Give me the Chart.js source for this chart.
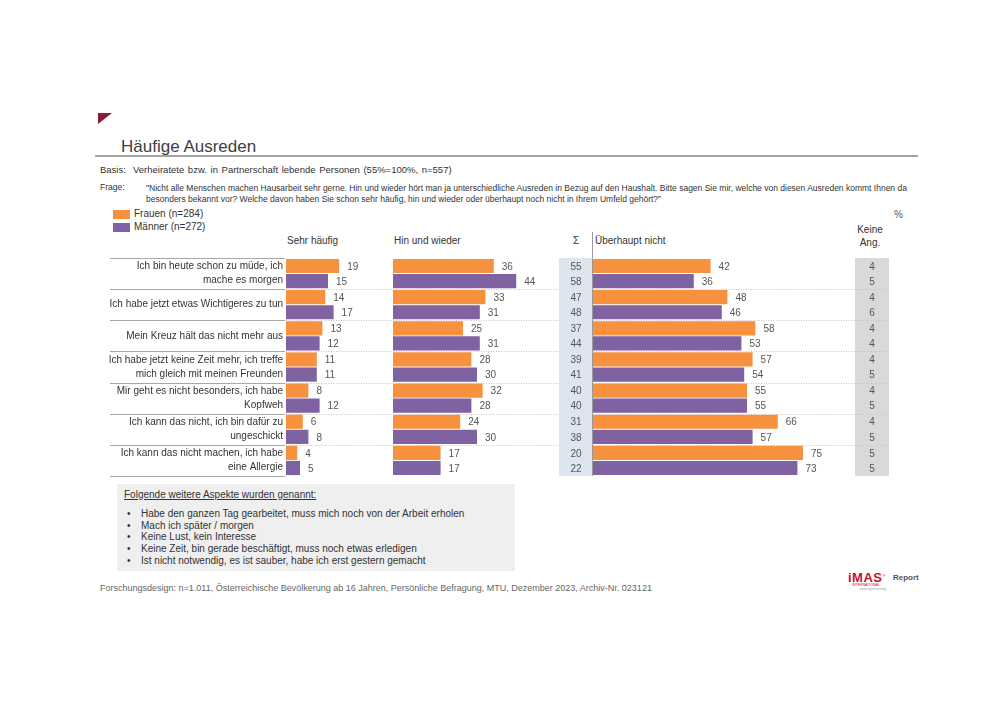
<!DOCTYPE html>
<html lang="de">
<head>
<meta charset="utf-8">
<title>Häufige Ausreden</title>
<script src="https://cdn.jsdelivr.net/npm/chart.js@4.4.1/dist/chart.umd.min.js"></script>
<style>
  html, body { margin: 0; padding: 0; background: #fff; }
  #page { position: relative; width: 1000px; height: 707px; overflow: hidden; background: #fff;
          font-family: "Liberation Sans", Arial, sans-serif; color: #333; }
  .t { position: absolute; white-space: nowrap; line-height: 1; }
  #chartWrap { position: absolute; left: 100px; top: 225px; width: 810px; height: 268px; }
</style>
</head>
<body>
<div id="page">
  <!-- red corner mark -->
  <svg style="position:absolute;left:98px;top:113px" width="14" height="12"><polygon points="0,0 14,0 0,11" fill="#8e1b35"/></svg>

  <div class="t" style="left:121px;top:138px;font-size:17px;color:#404040;">Häufige Ausreden</div>
  <div style="position:absolute;left:95px;top:155px;width:823px;height:2px;background:#a3a3a3;"></div>

  <div class="t" style="left:100px;top:165px;font-size:9.5px;">Basis:</div>
  <div class="t" style="left:133px;top:165px;font-size:9.5px;word-spacing:1px;">Verheiratete bzw. in Partnerschaft lebende Personen (55%=100%, n=557)</div>

  <div class="t" style="left:100px;top:182.5px;font-size:8.5px;">Frage:</div>
  <div class="t" style="left:146px;top:182.5px;font-size:8.5px;line-height:11.5px;">"Nicht alle Menschen machen Hausarbeit sehr gerne. Hin und wieder hört man ja unterschiedliche Ausreden in Bezug auf den Haushalt. Bitte sagen Sie mir, welche von diesen Ausreden kommt Ihnen da<br>besonders bekannt vor? Welche davon haben Sie schon sehr häufig, hin und wieder oder überhaupt noch nicht in Ihrem Umfeld gehört?"</div>

  <!-- legend -->
  <div id="legF" style="position:absolute;left:113px;top:210px;width:17px;height:9px;"></div>
  <div class="t" id="legFt" style="left:134px;top:209px;font-size:10px;"></div>
  <div id="legM" style="position:absolute;left:113px;top:223px;width:17px;height:9px;"></div>
  <div class="t" id="legMt" style="left:134px;top:222px;font-size:10px;"></div>

  <!-- column headers -->
  <div class="t" style="left:287px;top:236px;font-size:10px;">Sehr häufig</div>
  <div class="t" style="left:394px;top:236px;font-size:10px;">Hin und wieder</div>
  <div class="t" style="left:570px;top:236px;font-size:10px;width:12px;text-align:center;">Σ</div>
  <div class="t" style="left:595px;top:236px;font-size:10px;">Überhaupt nicht</div>
  <div class="t" style="left:850px;top:223px;font-size:10px;width:40px;text-align:center;line-height:13px;">Keine<br>Ang.</div>
  <div class="t" style="left:894px;top:210px;font-size:10px;color:#555;">%</div>

  <div id="chartWrap"><canvas id="c" width="810" height="268"></canvas></div>

  <!-- further aspects box -->
  <div style="position:absolute;left:117px;top:484px;width:398px;height:87px;background:#efefef;"></div>
  <div class="t" style="left:124px;top:489.5px;font-size:10px;text-decoration:underline;">Folgende weitere Aspekte wurden genannt:</div>
  <div id="bullets"></div>

  <div class="t" style="left:100px;top:583.5px;font-size:9px;color:#666;">Forschungsdesign: n=1.011, Österreichische Bevölkerung ab 16 Jahren, Persönliche Befragung, MTU, Dezember 2023, Archiv-Nr. 023121</div>

  <!-- logo -->
  <div class="t" style="left:848px;top:571px;font-size:13px;font-weight:bold;color:#c8102e;letter-spacing:0.5px;">iMAS<sup style="font-size:4px;color:#777;">®</sup></div>
  <div class="t" style="left:893px;top:574px;font-size:8px;font-weight:bold;color:#555;">Report</div>
  <div class="t" style="left:852px;top:584px;font-size:3.5px;color:#c8102e;">INTERNATIONAL</div>
  <div class="t" style="left:860px;top:588px;font-size:3px;color:#999;">meinungsforschung</div>
</div>

<script>
// ---------- data ----------
const categories = [
  ["Ich bin heute schon zu müde, ich", "mache es morgen"],
  ["Ich habe jetzt etwas Wichtigeres zu tun"],
  ["Mein Kreuz hält das nicht mehr aus"],
  ["Ich habe jetzt keine Zeit mehr, ich treffe", "mich gleich mit meinen Freunden"],
  ["Mir geht es nicht besonders, ich habe", "Kopfweh"],
  ["Ich kann das nicht, ich bin dafür zu", "ungeschickt"],
  ["Ich kann das nicht machen, ich habe", "eine Allergie"]
];
const seriesNames = ["Frauen (n=284)", "Männer (n=272)"];
const frauenSehrHaeufig = [19, 14, 13, 11, 8, 6, 4];
const maennerSehrHaeufig = [15, 17, 12, 11, 12, 8, 5];
const frauenHinUndWieder = [36, 33, 25, 28, 32, 24, 17];
const maennerHinUndWieder = [44, 31, 31, 30, 28, 30, 17];
const frauenSumme = [55, 47, 37, 39, 40, 31, 20];
const maennerSumme = [58, 48, 44, 41, 40, 38, 22];
const frauenUeberhauptNicht = [42, 48, 58, 57, 55, 66, 75];
const maennerUeberhauptNicht = [36, 46, 53, 54, 55, 57, 73];
const frauenKeineAngabe = [4, 4, 4, 4, 4, 4, 5];
const maennerKeineAngabe = [5, 6, 4, 5, 5, 5, 5];
const weitereAspekte = [
  "Habe den ganzen Tag gearbeitet, muss mich noch von der Arbeit erholen",
  "Mach ich später / morgen",
  "Keine Lust, kein Interesse",
  "Keine Zeit, bin gerade beschäftigt, muss noch etwas erledigen",
  "Ist nicht notwendig, es ist sauber, habe ich erst gestern gemacht"
];

// ---------- styles ----------
const ORANGE = "#f7913d";
const PURPLE = "#7f62a1";
const FONT = "'Liberation Sans', Arial, sans-serif";
const PX_PER_UNIT = 2.8;

// legend + bullets (HTML text)
document.getElementById("legF").style.background = ORANGE;
document.getElementById("legM").style.background = PURPLE;
document.getElementById("legFt").textContent = seriesNames[0];
document.getElementById("legMt").textContent = seriesNames[1];
const bl = document.getElementById("bullets");
weitereAspekte.forEach((txt, i) => {
  const top = 509 + i * 11.7;
  const b = document.createElement("div");
  b.className = "t"; b.style.cssText = `left:127px;top:${top}px;font-size:10px;`;
  b.textContent = "•";
  const d = document.createElement("div");
  d.className = "t"; d.style.cssText = `left:141px;top:${top}px;font-size:10px;`;
  d.textContent = txt;
  bl.appendChild(b); bl.appendChild(d);
});

// panel widths in px (stack weights)
const wSehr = 107, wHin = 166, wSum = 34, wNicht = 262, wKeine = 34;

function ds(label, data, color, axis, stack) {
  return { label, data, backgroundColor: color, xAxisID: axis, stack, borderWidth: 0,
           categoryPercentage: 0.97, barPercentage: 0.94 };
}

const decor = {
  id: "decor",
  beforeDatasetsDraw(chart) {
    const { ctx, chartArea: a, scales } = chart;
    const y = scales.y, n = categories.length;
    ctx.save();
    // Keine Angabe column background
    ctx.fillStyle = "#d9d9d9";
    ctx.fillRect(scales.xk.left, a.top, scales.xk.width, a.height);
    // separators in label area
    ctx.strokeStyle = "#a8a8a8"; ctx.lineWidth = 1;
    for (let i = 0; i <= n; i++) {
      const yy = Math.round(y.getPixelForValue(i - 0.5)) + 0.5;
      ctx.beginPath(); ctx.moveTo(10, yy); ctx.lineTo(a.left - 1, yy); ctx.stroke();
    }
    // dotted separators across panels
    ctx.strokeStyle = "#c4c4c4"; ctx.setLineDash([1, 1.5]);
    for (let i = 1; i < n; i++) {
      const yy = Math.round(y.getPixelForValue(i - 0.5)) + 0.5;
      ctx.beginPath(); ctx.moveTo(a.left, yy); ctx.lineTo(scales.xk.right, yy); ctx.stroke();
    }
    ctx.setLineDash([]);
    // Sigma column background
    ctx.fillStyle = "#dde6ef";
    ctx.fillRect(scales.xsum.left, a.top, scales.xsum.width, a.height);
    // vertical divider before "Überhaupt nicht"
    ctx.strokeStyle = "#9a9a9a";
    const vx = Math.round(scales.xu.left) - 0.5;
    ctx.beginPath(); ctx.moveTo(vx, a.top - 26); ctx.lineTo(vx, a.bottom); ctx.stroke();
    ctx.restore();
  },
  afterDatasetsDraw(chart) {
    const { ctx, scales } = chart;
    ctx.save();
    ctx.font = "10px " + FONT;
    ctx.fillStyle = "#555";
    ctx.textBaseline = "middle";
    ctx.textAlign = "left";
    chart.data.datasets.forEach((d, di) => {
      const meta = chart.getDatasetMeta(di);
      meta.data.forEach((bar, j) => {
        ctx.fillText(String(d.data[j]), bar.x + 8, bar.y + 1);
      });
    });
    ctx.textAlign = "center";
    const fMeta = chart.getDatasetMeta(0), mMeta = chart.getDatasetMeta(1);
    const cs = (scales.xsum.left + scales.xsum.right) / 2;
    const ck = (scales.xk.left + scales.xk.right) / 2;
    categories.forEach((c, j) => {
      ctx.fillText(String(frauenSumme[j]), cs, fMeta.data[j].y + 1);
      ctx.fillText(String(maennerSumme[j]), cs, mMeta.data[j].y + 1);
      ctx.fillText(String(frauenKeineAngabe[j]), ck, fMeta.data[j].y + 1);
      ctx.fillText(String(maennerKeineAngabe[j]), ck, mMeta.data[j].y + 1);
    });
    ctx.restore();
  }
};

function xAxis(weight) {
  return { type: "linear", position: "bottom", stack: "panels", stackWeight: weight,
           min: 0, max: weight / PX_PER_UNIT, display: false };
}

new Chart(document.getElementById("c"), {
  type: "bar",
  data: {
    labels: categories,
    datasets: [
      ds(seriesNames[0], frauenSehrHaeufig, ORANGE, "xs", "F"),
      ds(seriesNames[1], maennerSehrHaeufig, PURPLE, "xs", "M"),
      ds(seriesNames[0], frauenHinUndWieder, ORANGE, "xh", "F"),
      ds(seriesNames[1], maennerHinUndWieder, PURPLE, "xh", "M"),
      ds(seriesNames[0], frauenUeberhauptNicht, ORANGE, "xu", "F"),
      ds(seriesNames[1], maennerUeberhauptNicht, PURPLE, "xu", "M")
    ]
  },
  options: {
    indexAxis: "y",
    responsive: false,
    animation: false,
    devicePixelRatio: 1,
    layout: { padding: { top: 33, bottom: 9, left: 0, right: 21 } },
    plugins: { legend: { display: false }, tooltip: { enabled: false } },
    scales: {
      y: {
        type: "category",
        position: "left",
        grid: { display: false, drawTicks: false },
        border: { display: false },
        ticks: { color: "#333", padding: 3, font: { family: FONT, size: 10, lineHeight: 1.4 } },
        afterFit(s) { s.width = 186; }
      },
      xs: xAxis(wSehr),
      xh: xAxis(wHin),
      xsum: xAxis(wSum),
      xu: xAxis(wNicht),
      xk: xAxis(wKeine)
    }
  },
  plugins: [decor]
});
</script>
</body>
</html>
